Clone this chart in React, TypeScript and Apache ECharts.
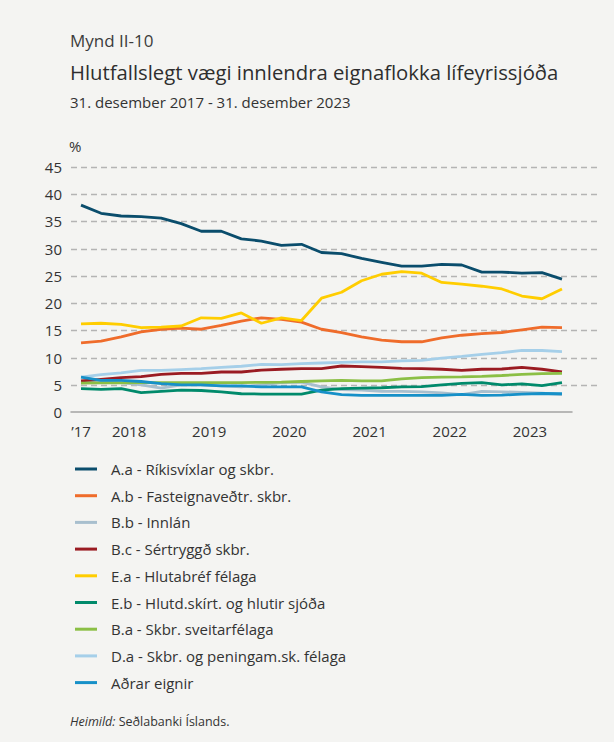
import React, { useEffect, useRef } from "react";
import * as echarts from "echarts";

const categories = [
  "2017Q4",
  "2018Q1", "2018Q2", "2018Q3", "2018Q4",
  "2019Q1", "2019Q2", "2019Q3", "2019Q4",
  "2020Q1", "2020Q2", "2020Q3", "2020Q4",
  "2021Q1", "2021Q2", "2021Q3", "2021Q4",
  "2022Q1", "2022Q2", "2022Q3", "2022Q4",
  "2023Q1", "2023Q2", "2023Q3", "2023Q4",
];

const yTicks = [0, 5, 10, 15, 20, 25, 30, 35, 40, 45];

const seriesNames = [
  "A.a - Ríkisvíxlar og skbr.",
  "A.b - Fasteignaveðtr. skbr.",
  "B.b - Innlán",
  "B.c - Sértryggð skbr.",
  "E.a - Hlutabréf félaga",
  "E.b - Hlutd.skírt. og hlutir sjóða",
  "B.a - Skbr. sveitarfélaga",
  "D.a - Skbr. og peningam.sk. félaga",
  "Aðrar eignir",
];

const aaRikis = [38.0, 36.5, 36.0, 35.9, 35.6, 34.6, 33.2, 33.2, 31.8, 31.4, 30.6, 30.8, 29.3, 29.1, 28.2, 27.5, 26.8, 26.8, 27.1, 27.0, 25.7, 25.7, 25.5, 25.6, 24.4];
const abFasteign = [12.7, 13.0, 13.8, 14.7, 15.2, 15.4, 15.2, 15.9, 16.7, 17.3, 17.0, 16.5, 15.2, 14.6, 13.8, 13.2, 12.9, 12.9, 13.6, 14.1, 14.4, 14.6, 15.1, 15.6, 15.5];
const bbInnlan = [5.6, 5.5, 5.4, 5.0, 4.4, 5.0, 5.0, 4.8, 4.6, 5.0, 5.4, 5.5, 4.6, 4.1, 4.0, 3.8, 3.8, 3.7, 3.5, 3.2, 3.8, 3.7, 3.6, 3.45, 3.2];
const bcSertryggd = [5.7, 6.0, 6.3, 6.5, 6.9, 7.1, 7.1, 7.35, 7.35, 7.7, 7.85, 7.95, 7.95, 8.45, 8.35, 8.2, 8.0, 7.95, 7.85, 7.65, 7.85, 7.9, 8.2, 7.85, 7.35];
const eaHlutabref = [16.2, 16.3, 16.1, 15.5, 15.6, 15.8, 17.3, 17.2, 18.2, 16.3, 17.3, 16.8, 20.9, 22.0, 24.1, 25.3, 25.8, 25.5, 23.8, 23.5, 23.1, 22.6, 21.3, 20.8, 22.6];
const ebHlutdeild = [4.3, 4.15, 4.3, 3.55, 3.8, 4.0, 3.95, 3.7, 3.35, 3.3, 3.3, 3.3, 4.0, 4.3, 4.4, 4.45, 4.6, 4.65, 5.0, 5.25, 5.4, 5.0, 5.15, 4.85, 5.4];
const baSveitar = [5.3, 5.35, 5.35, 5.4, 5.4, 5.4, 5.4, 5.4, 5.4, 5.45, 5.5, 5.6, 5.7, 5.8, 5.7, 5.7, 6.1, 6.3, 6.4, 6.45, 6.55, 6.7, 6.9, 7.05, 7.1];
const daFelaga = [6.4, 6.85, 7.2, 7.65, 7.65, 7.8, 7.95, 8.2, 8.4, 8.75, 8.7, 8.9, 9.0, 9.1, 9.2, 9.2, 9.4, 9.5, 9.9, 10.2, 10.6, 10.9, 11.3, 11.3, 11.1];
const adrarEignir = [6.4, 5.8, 5.8, 5.6, 5.2, 5.0, 5.0, 4.8, 4.8, 4.6, 4.6, 4.6, 3.7, 3.2, 3.05, 3.05, 3.05, 3.05, 3.05, 3.25, 3.05, 3.1, 3.3, 3.4, 3.35];

const seriesData = [aaRikis, abFasteign, bbInnlan, bcSertryggd, eaHlutabref, ebHlutdeild, baSveitar, daFelaga, adrarEignir];
const seriesColors = ["#0a4d6c", "#ef6c2b", "#a8bfce", "#9a1b22", "#ffcd00", "#008a6b", "#8bbf45", "#a5cfe9", "#1690c8"];

const FONT = "'Open Sans', 'Noto Sans', sans-serif";
const TEXT = "#333333";

export default function App() {
  const ref = useRef<HTMLDivElement>(null);

  useEffect(() => {
    document.body.style.margin = "0";
    const chart = echarts.init(ref.current!, null, { renderer: "svg" });
    const option = {
      animation: false,
      backgroundColor: "#f4f4f2",
      textStyle: { fontFamily: FONT },
      grid: [
        { left: 71, right: 42, top: 167, bottom: 330, containLabel: false },
        { left: 71, right: 17, top: 167, bottom: 357, containLabel: false },
      ],
      xAxis: [
        {
          type: "category",
          gridIndex: 0,
          data: categories,
          boundaryGap: true,
          axisLine: { lineStyle: { color: "#a3a3a3", width: 1.5 } },
          axisTick: {
            length: 8,
            lineStyle: { color: "#a3a3a3", width: 1.3 },
            interval: (i: number) => i === 0 || (i - 1) % 4 === 0,
          },
          axisLabel: {
            interval: (i: number) => i === 0 || i % 4 === 2,
            margin: 11,
            color: TEXT,
            fontSize: 15,
            fontFamily: FONT,
            formatter: (v: string, i: number) =>
              i === 0 ? "’" + v.slice(2, 4) : "{y|" + v.slice(0, 4) + "}",
            rich: { y: { padding: [0, 0, 0, 16], fontSize: 15, color: TEXT, fontFamily: FONT } },
          },
          splitLine: { show: false },
        },
        { type: "value", gridIndex: 1, show: false, min: 0, max: 1 },
      ],
      yAxis: [
        {
          type: "value",
          gridIndex: 0,
          min: yTicks[0],
          max: yTicks[yTicks.length - 1],
          interval: 5,
          axisLine: { show: false },
          axisTick: { show: false },
          splitLine: { show: false },
          axisLabel: { color: TEXT, fontSize: 15, margin: 9, fontFamily: FONT },
        },
        {
          type: "value",
          gridIndex: 1,
          min: yTicks[1],
          max: yTicks[yTicks.length - 1],
          interval: 5,
          axisLine: { show: false },
          axisTick: { show: false },
          axisLabel: { show: false },
          splitLine: { show: true, lineStyle: { color: "#b4b4b4", width: 1.3, type: [6, 4] } },
        },
      ],
      legend: {
        orient: "vertical",
        left: 70,
        top: 455,
        icon: "rect",
        itemWidth: 22,
        itemHeight: 3,
        itemGap: 8.7,
        textStyle: { color: TEXT, fontSize: 15, lineHeight: 18, padding: [0, 0, 0, 9], fontFamily: FONT },
        data: seriesNames,
      },
      graphic: [
        { type: "text", left: 70, top: 32, style: { text: "Mynd II-10", fontSize: 17, fill: "#3c3c3c", fontFamily: FONT } },
        { type: "text", left: 70, top: 62, style: { text: "Hlutfallslegt vægi innlendra eignaflokka lífeyrissjóða", fontSize: 20.3, fill: "#2e2e2e", fontFamily: FONT } },
        { type: "text", left: 70, top: 94, style: { text: "31. desember 2017 - 31. desember 2023", fontSize: 15, fill: TEXT, fontFamily: FONT } },
        { type: "text", left: 69, top: 138, style: { text: "%", fontSize: 15, fill: TEXT, fontFamily: FONT } },
        {
          type: "text",
          left: 70,
          top: 715,
          style: {
            text: "{i|Heimild:} Seðlabanki Íslands.",
            fontSize: 12.5,
            fill: TEXT,
            fontFamily: FONT,
            rich: { i: { fontStyle: "italic", fontSize: 12.5, fill: TEXT, fontFamily: FONT } },
          },
        },
      ],
      series: seriesNames.map((name, k) => ({
        name,
        type: "line",
        xAxisIndex: 0,
        yAxisIndex: 0,
        data: seriesData[k],
        showSymbol: false,
        symbol: "none",
        color: seriesColors[k],
        lineStyle: { color: seriesColors[k], width: 2.8 },
        z: 2 + (k === 0 || k === 4 || k === 1 ? 1 : 0),
      })),
    };
    chart.setOption(option as any);
    return () => chart.dispose();
  }, []);

  return <div ref={ref} style={{ width: 614, height: 742 }} />;
}
